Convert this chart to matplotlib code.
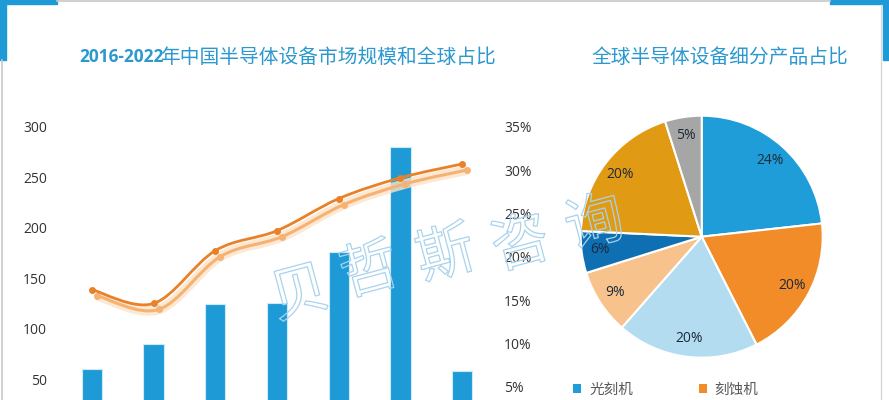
import numpy as np
import matplotlib
matplotlib.use("Agg")
import matplotlib.pyplot as plt
import matplotlib.patheffects as pe
from matplotlib.path import Path
from matplotlib.patches import PathPatch, Rectangle
from matplotlib import transforms

plt.rcParams['font.family'] = ['Open Sans', 'Noto Sans CJK SC', 'DejaVu Sans']

# data
years = ['2016', '2017', '2018', '2019', '2020', '2021', '2022']
market_size = [60, 85, 125, 126, 176, 280, 58]
global_share = [16.2, 14.6, 20.7, 23.0, 26.7, 29.1, 30.7]

left_ticks = [50, 100, 150, 200, 250, 300]
right_ticks = [5, 10, 15, 20, 25, 30, 35]

products = ['光刻机', '刻蚀机']
product_share = [23.3, 19.3, 19.0, 8.7, 5.6, 19.4, 4.9]
product_labels = ['24%', '20%', '20%', '9%', '6%', '20%', '5%']

W, H = 889, 400
BLUE = '#1e9bd7'
ORANGE = '#e8822a'
TITLE = '#2b98cf'
pie_colors = ['#1f9dd9', '#f28c28', '#b3dcf1', '#f8c28c', '#0e70b3', '#e09a14', '#a6a6a6']

fig = plt.figure(figsize=(W / 100, H / 100), dpi=100)


def fx(px):
    return px / W


def fy(py):
    return 1 - py / H


# frame decorations
fig.patches.append(Rectangle((0, fy(4)), fx(57), 4 / H, color=BLUE, transform=fig.transFigure))
fig.patches.append(Rectangle((0, fy(60)), fx(6), 60 / H, color=BLUE, transform=fig.transFigure))
fig.patches.append(Rectangle((fx(830), fy(4)), fx(59), 4 / H, color=BLUE, transform=fig.transFigure))
fig.patches.append(Rectangle((fx(883), fy(60)), fx(6), 60 / H, color=BLUE, transform=fig.transFigure))
fig.add_artist(plt.Line2D([fx(57), fx(830)], [fy(1), fy(1)], color='#c8c8c8', lw=1.2))
fig.add_artist(plt.Line2D([fx(1.5), fx(1.5)], [fy(60), 0], color='#c8c8c8', lw=1.2))
fig.add_artist(plt.Line2D([fx(880.5), fx(880.5)], [fy(5), 0], color='#d8d8d8', lw=1.0))

# titles
fig.text(fx(79), fy(57), '2016-2022', color=TITLE, fontsize=12.4, fontweight='bold',
         family='Open Sans', ha='left', va='center')
fig.text(fx(160), fy(57), '年中国半导体设备市场规模和全球占比', color=TITLE, fontsize=14.2,
         family='Noto Sans CJK SC', ha='left', va='center')
fig.text(fx(591), fy(57), '全球半导体设备细分产品占比', color=TITLE, fontsize=14.2,
         family='Noto Sans CJK SC', ha='left', va='center')

# bar + line chart
ax = fig.add_axes([fx(61), fy(430), fx(493) - fx(61), (430 - 126.7) / H])
x = np.arange(len(years))
ax.bar(x, market_size, width=0.33, color=BLUE, edgecolor='#cfe9f7', linewidth=0.8, zorder=2)
ax.set_xlim(-0.5, len(years) - 0.5)
ax.set_ylim(0, 300)
ax.set_yticks(left_ticks)
ax.tick_params(axis='y', length=0, pad=10, labelsize=10, labelcolor='#333333')
ax.set_xticks([])
for s in ax.spines.values():
    s.set_visible(False)

ax2 = ax.twinx()
ax2.set_ylim(0, 35)
ax2.set_yticks(right_ticks)
ax2.set_yticklabels([f'{t}%' for t in right_ticks])
ax2.tick_params(axis='y', length=0, pad=8, labelsize=10, labelcolor='#333333')
for s in ax2.spines.values():
    s.set_visible(False)

# smooth curve through the share points (Catmull-Rom as cubic Bezier)
pts = np.column_stack([x, global_share]).astype(float)
verts = [pts[0]]
codes = [Path.MOVETO]
n = len(pts)
for i in range(n - 1):
    p0 = pts[max(i - 1, 0)]
    p1 = pts[i]
    p2 = pts[i + 1]
    p3 = pts[min(i + 2, n - 1)]
    verts += [p1 + (p2 - p0) / 6, p2 - (p3 - p1) / 6, p2]
    codes += [Path.CURVE4] * 3
curve = Path(verts, codes)

shadow_tr = transforms.offset_copy(ax2.transData, fig=fig, x=5, y=-6, units='dots')
ax2.add_patch(PathPatch(curve, facecolor='none', edgecolor='#fde3c8', lw=7, alpha=0.8,
                        transform=shadow_tr, zorder=3))
ax2.add_patch(PathPatch(curve, facecolor='none', edgecolor='#f6b273', lw=2.2,
                        transform=shadow_tr, zorder=3))
ax2.plot(x, global_share, 'o', color='#f6b273', ms=4, transform=shadow_tr, zorder=3)
ax2.add_patch(PathPatch(curve, facecolor='none', edgecolor=ORANGE, lw=2.0, zorder=4))
ax2.plot(x, global_share, 'o', color=ORANGE, ms=4, zorder=4)

# pie chart
r = 121
cx, cy = 701.7, 236.7
pax = fig.add_axes([fx(cx - r), fy(cy + r), 2 * r / W, 2 * r / H])
lab_iter = iter(product_labels)
wedges, _, autotexts = pax.pie(product_share, colors=pie_colors, startangle=90, counterclock=False,
                               autopct=lambda p: next(lab_iter), pctdistance=0.85,
                               wedgeprops=dict(edgecolor='white', linewidth=1.5),
                               textprops=dict(fontsize=10, color='#1b2a3a', family='Open Sans'))
pax.set_xlim(-1, 1)
pax.set_ylim(-1, 1)

leg = fig.legend(wedges[:2], products, ncol=2,
                 loc='upper left', bbox_to_anchor=(fx(573), fy(383)), frameon=False,
                 handlelength=0.55, handleheight=0.55, handletextpad=0.55, columnspacing=4.5,
                 borderpad=0, borderaxespad=0,
                 prop=dict(family='Noto Sans CJK SC', size=10.5))
for t in leg.get_texts():
    t.set_color('#595959')
for h in leg.legend_handles:
    h.set_edgecolor('none')

# watermark
wm_chars = ['贝', '哲', '斯', '咨', '询']
wm_pos = [(300, 295), (370, 272), (446, 256), (521, 245), (595, 225)]
for ch, (px, py) in zip(wm_chars, wm_pos):
    fig.text(fx(px), fy(py), ch, fontsize=42, family='Noto Sans CJK SC', color='none',
             ha='center', va='center', rotation=15, zorder=10,
             path_effects=[pe.Stroke(linewidth=0.9, foreground='#a8d3ec')])

fig.savefig('out.png', dpi=100)
